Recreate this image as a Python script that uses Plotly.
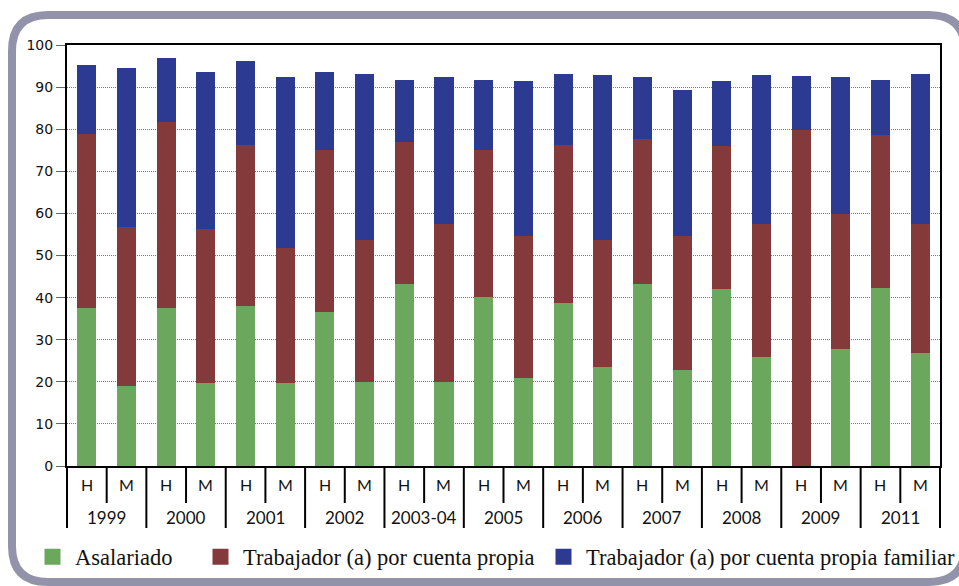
import plotly.graph_objects as go

# Categories
years = ["1999", "2000", "2001", "2002", "2003-04", "2005",
         "2006", "2007", "2008", "2009", "2011"]
sexes = ["H", "M"]

# Share of employed by occupational category (%), ordered H, M per year
asalariado = [37.6, 18.9, 37.6, 19.8, 38.1, 19.6, 36.6, 20.0, 43.2, 20.0, 40.2,
              20.8, 38.8, 23.4, 43.2, 22.7, 42.1, 25.8, 0.0, 27.7, 42.4, 26.8]
cuenta_propia = [41.3, 37.9, 44.1, 36.6, 38.2, 32.2, 38.4, 33.7, 33.8, 37.5, 34.8,
                 33.9, 37.5, 30.3, 34.5, 32.0, 33.8, 31.7, 79.8, 32.2, 36.2, 30.7]
cuenta_propia_familiar = [16.4, 37.8, 15.2, 37.1, 19.9, 40.5, 18.5, 39.5, 14.6, 34.8, 16.6,
                          36.7, 16.9, 39.1, 14.6, 34.6, 15.5, 35.3, 12.8, 32.4, 13.0, 35.5]

series_names = ["Asalariado",
                "Trabajador (a) por cuenta propia",
                "Trabajador (a) por cuenta propia familiar"]
series_colors = ["#6ca75e", "#843a3b", "#2d3a92"]
y_ticks = list(range(0, 101, 10))

W, H = 959, 586
ML, MR, MT, MB = 67, 19, 45, 120

# One category per (year, sex) pair
cats = [f"{y} {s}" for y in years for s in sexes]
n_cats = len(cats)


def px_x(px):
    return (px - ML) / (W - ML - MR)


def px_y(py):
    return (H - MB - py) / (H - MT - MB)


def pt(px, py):
    return f"{px_x(px):.5f},{px_y(py):.5f}"


fig = go.Figure()
for name, vals, col in zip(series_names,
                           [asalariado, cuenta_propia, cuenta_propia_familiar],
                           series_colors):
    fig.add_trace(go.Bar(x=cats, y=vals, name=name,
                         marker=dict(color=col, line=dict(width=0)),
                         showlegend=False))

# Legend entries with larger square swatches, each in its own legend box
legend_ids = ["legend", "legend2", "legend3"]
for name, col, lid in zip(series_names, series_colors, legend_ids):
    fig.add_trace(go.Scatter(x=[cats[0]], y=[None], mode="markers", name=name,
                             marker=dict(symbol="square", size=18, color=col),
                             legend=lid, showlegend=True, hoverinfo="skip"))

# Rounded outer frame
L, T, R, B, r = 12, 15, 965, 582, 36
frame = (f"M {pt(L + r, T)} L {pt(R - r, T)} Q {pt(R, T)} {pt(R, T + r)} "
         f"L {pt(R, B - r)} Q {pt(R, B)} {pt(R - r, B)} "
         f"L {pt(L + r, B)} Q {pt(L, B)} {pt(L, B - r)} "
         f"L {pt(L, T + r)} Q {pt(L, T)} {pt(L + r, T)} Z")
fig.add_shape(type="path", path=frame, xref="paper", yref="paper",
              line=dict(color="#9292aa", width=8), layer="below")

# Two-level category labels below the axis: sex row and year row,
# separated by short ticks (within a year) and long dividers (between years)
y_axis0 = px_y(H - MB)
for k in range(n_cats + 1):
    xb = k / n_cats
    long_tick = (k % len(sexes) == 0)
    fig.add_shape(type="line", xref="paper", yref="paper",
                  x0=xb, x1=xb, y0=y_axis0, y1=px_y(528 if long_tick else 503),
                  line=dict(color="black", width=2))

lab_font = dict(family="Lato", size=16, color="#111111")
year_font = dict(family="Lato", size=17, color="#111111")
for c, s in zip(cats, [s for _ in years for s in sexes]):
    fig.add_annotation(x=c, xref="x", y=px_y(485), yref="paper", text=s,
                       showarrow=False, font=lab_font, yanchor="middle")
for i, y in enumerate(years):
    fig.add_annotation(x=i * len(sexes) + (len(sexes) - 1) / 2, xref="x",
                       y=px_y(517), yref="paper", text=y, showarrow=False,
                       font=year_font, yanchor="middle")

legend_font = dict(family="Liberation Serif", size=22.5, color="#111111")
legend_common = dict(orientation="h", yanchor="middle", xanchor="left",
                     font=legend_font, bgcolor="rgba(0,0,0,0)",
                     itemsizing="trace", itemwidth=35, y=px_y(557))

fig.update_layout(
    width=W, height=H,
    margin=dict(l=ML, r=MR, t=MT, b=MB, autoexpand=False),
    paper_bgcolor="white", plot_bgcolor="white",
    barmode="stack", bargap=0.52,
    legend=dict(x=px_x(30), **legend_common),
    legend2=dict(x=px_x(198), **legend_common),
    legend3=dict(x=px_x(541), **legend_common),
    yaxis=dict(range=[0, 100], tickvals=y_ticks, ticktext=[str(v) for v in y_ticks],
               showgrid=True, gridcolor="#7a7a7a", griddash="1px,1px", gridwidth=1,
               showline=True, linecolor="black", linewidth=2, mirror=True,
               ticks="outside", ticklen=9, tickcolor="#666666", tickwidth=1,
               zeroline=False, automargin=False,
               tickfont=dict(family="DejaVu Sans", size=14, color="#111111")),
    xaxis=dict(type="category", categoryorder="array", categoryarray=cats,
               range=[-0.5, n_cats - 0.5], showticklabels=False, ticks="",
               showline=True, linecolor="black", linewidth=2, mirror=True,
               showgrid=False, automargin=False),
)

fig.write_html("out.html")
